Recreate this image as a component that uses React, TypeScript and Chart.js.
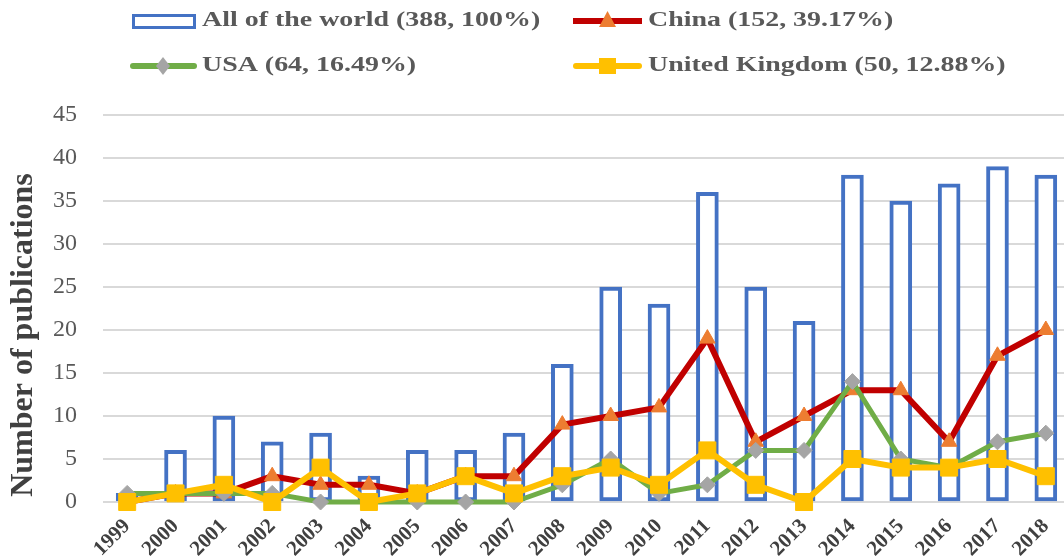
import React, { useEffect, useRef } from 'react';
import { Chart, registerables } from 'chart.js';

Chart.register(...registerables);

const years = ['1999', '2000', '2001', '2002', '2003', '2004', '2005', '2006', '2007', '2008', '2009', '2010', '2011', '2012', '2013', '2014', '2015', '2016', '2017', '2018'];
const worldCounts = [1, 6, 10, 7, 8, 3, 6, 6, 8, 16, 25, 23, 36, 25, 21, 38, 35, 37, 39, 38];
const chinaCounts = [0, 1, 1, 3, 2, 2, 1, 3, 3, 9, 10, 11, 19, 7, 10, 13, 13, 7, 17, 20];
const usaCounts = [1, 1, 1, 1, 0, 0, 0, 0, 0, 2, 5, 1, 2, 6, 6, 14, 5, 4, 7, 8];
const ukCounts = [0, 1, 2, 0, 4, 0, 1, 3, 1, 3, 4, 2, 6, 2, 0, 5, 4, 4, 5, 3];
const seriesNames = ['All of the world (388, 100%)', 'China (152, 39.17%)', 'USA (64, 16.49%)', 'United Kingdom (50, 12.88%)'];
const yAxisTitle = 'Number of publications';
const yMin = 0;
const yMax = 45;
const yStep = 5;

const SERIF = '"Liberation Serif", "Times New Roman", serif';
const BLUE = '#4472C4';
const RED = '#C00000';
const ORANGE = '#ED7D31';
const GREEN = '#70AD47';
const GREY = '#A5A5A5';
const GOLD = '#FFC000';

const decorPlugin = {
  id: 'decor',
  afterDraw(chart: any) {
    const ctx = chart.ctx as CanvasRenderingContext2D;
    ctx.save();
    const drawText = (t: string, x: number, y: number) => {
      ctx.save();
      ctx.translate(x, y);
      ctx.scale(1.33, 1);
      ctx.font = `bold 21px ${SERIF}`;
      ctx.fillStyle = '#595959';
      ctx.textAlign = 'left';
      ctx.textBaseline = 'middle';
      ctx.fillText(t, 0, 0);
      ctx.restore();
    };
    const row1 = 21;
    const row2 = 66;
    // item 1: bar box
    ctx.fillStyle = '#FFFFFF';
    ctx.fillRect(133, 15, 62, 12);
    ctx.strokeStyle = BLUE;
    ctx.lineWidth = 3;
    ctx.strokeRect(133.5, 15.5, 61, 12);
    drawText(seriesNames[0], 202, row1);
    // item 2: china line + triangle
    ctx.strokeStyle = RED;
    ctx.lineWidth = 6;
    ctx.lineCap = 'butt';
    ctx.beginPath();
    ctx.moveTo(573, row1);
    ctx.lineTo(642, row1);
    ctx.stroke();
    ctx.fillStyle = ORANGE;
    ctx.beginPath();
    ctx.moveTo(607.5, row1 - 10);
    ctx.lineTo(616, row1 + 6);
    ctx.lineTo(599, row1 + 6);
    ctx.closePath();
    ctx.fill();
    drawText(seriesNames[1], 648, row1);
    // item 3: usa line + diamond
    ctx.strokeStyle = GREEN;
    ctx.lineWidth = 6;
    ctx.lineCap = 'round';
    ctx.beginPath();
    ctx.moveTo(133, row2);
    ctx.lineTo(194, row2);
    ctx.stroke();
    ctx.fillStyle = GREY;
    ctx.beginPath();
    ctx.moveTo(163, row2 - 9);
    ctx.lineTo(170, row2);
    ctx.lineTo(163, row2 + 9);
    ctx.lineTo(156, row2);
    ctx.closePath();
    ctx.fill();
    drawText(seriesNames[2], 202, row2);
    // item 4: uk line + square
    ctx.strokeStyle = GOLD;
    ctx.beginPath();
    ctx.moveTo(576, row2);
    ctx.lineTo(639, row2);
    ctx.stroke();
    ctx.fillStyle = GOLD;
    ctx.fillRect(599, row2 - 8, 17, 16);
    drawText(seriesNames[3], 648, row2);
    // y axis title
    ctx.save();
    ctx.translate(24, 335);
    ctx.rotate(-Math.PI / 2);
    ctx.font = `bold 32px ${SERIF}`;
    ctx.fillStyle = '#404040';
    ctx.textAlign = 'center';
    ctx.textBaseline = 'middle';
    ctx.fillText(yAxisTitle, 0, 0);
    ctx.restore();
    // x axis category labels, rotated
    const xs = chart.scales.x;
    ctx.font = `bold 21px ${SERIF}`;
    ctx.fillStyle = '#404040';
    ctx.textAlign = 'right';
    ctx.textBaseline = 'middle';
    years.forEach((label, i) => {
      const px = xs.getPixelForValue(i);
      ctx.save();
      ctx.translate(px, 523);
      ctx.rotate(-Math.PI / 4);
      ctx.fillText(label, 0, 0);
      ctx.restore();
    });
    ctx.restore();
  },
};

export default function App() {
  const ref = useRef<HTMLCanvasElement | null>(null);

  useEffect(() => {
    document.documentElement.style.overflow = 'hidden';
    document.body.style.overflow = 'hidden';
    const canvas = ref.current;
    if (!canvas) return;
    const chart = new Chart(canvas, {
      type: 'bar',
      data: {
        labels: years,
        datasets: [
          {
            type: 'bar',
            label: seriesNames[0],
            data: worldCounts,
            backgroundColor: '#FFFFFF',
            borderColor: BLUE,
            borderWidth: 4,
            borderSkipped: false,
            barThickness: 22,
            order: 3,
          } as any,
          {
            type: 'line',
            label: seriesNames[1],
            data: chinaCounts,
            borderColor: RED,
            borderWidth: 6,
            borderJoinStyle: 'round',
            pointStyle: 'triangle',
            pointRadius: 9,
            pointBackgroundColor: ORANGE,
            pointBorderColor: ORANGE,
            pointBorderWidth: 1,
            clip: false,
            order: 2,
          } as any,
          {
            type: 'line',
            label: seriesNames[2],
            data: usaCounts,
            borderColor: GREEN,
            borderWidth: 5,
            borderJoinStyle: 'round',
            pointStyle: 'rectRot',
            pointRadius: 8,
            pointBackgroundColor: GREY,
            pointBorderColor: GREY,
            pointBorderWidth: 1,
            clip: false,
            order: 1,
          } as any,
          {
            type: 'line',
            label: seriesNames[3],
            data: ukCounts,
            borderColor: GOLD,
            borderWidth: 6,
            borderJoinStyle: 'round',
            pointStyle: 'rect',
            pointRadius: 12,
            pointBackgroundColor: GOLD,
            pointBorderColor: GOLD,
            pointBorderWidth: 1,
            clip: false,
            order: 0,
          } as any,
        ],
      },
      options: {
        animation: false,
        responsive: false,
        devicePixelRatio: 1,
        layout: { autoPadding: false, padding: { top: 115, left: 0, right: 0, bottom: 0 } },
        plugins: {
          legend: { display: false },
          tooltip: { enabled: false },
          title: { display: false },
        },
        scales: {
          x: {
            grid: { display: false, drawTicks: false },
            border: { display: false },
            ticks: { display: false },
            afterFit: (s: any) => {
              s.height = 58;
            },
          },
          y: {
            min: yMin,
            max: yMax,
            ticks: {
              stepSize: yStep,
              font: { family: SERIF, size: 24 },
              color: '#595959',
              padding: 26,
            },
            grid: { color: '#D9D9D9', lineWidth: 2, drawTicks: false },
            border: { display: false },
            afterFit: (s: any) => {
              s.width = 103;
            },
          },
        },
      } as any,
      plugins: [decorPlugin],
    });
    return () => chart.destroy();
  }, []);

  return (
    <div style={{ position: 'fixed', left: 0, top: 0, width: 1070, height: 560, background: '#FFFFFF' }}>
      <canvas ref={ref} width={1070} height={560} style={{ display: 'block' }} />
    </div>
  );
}
